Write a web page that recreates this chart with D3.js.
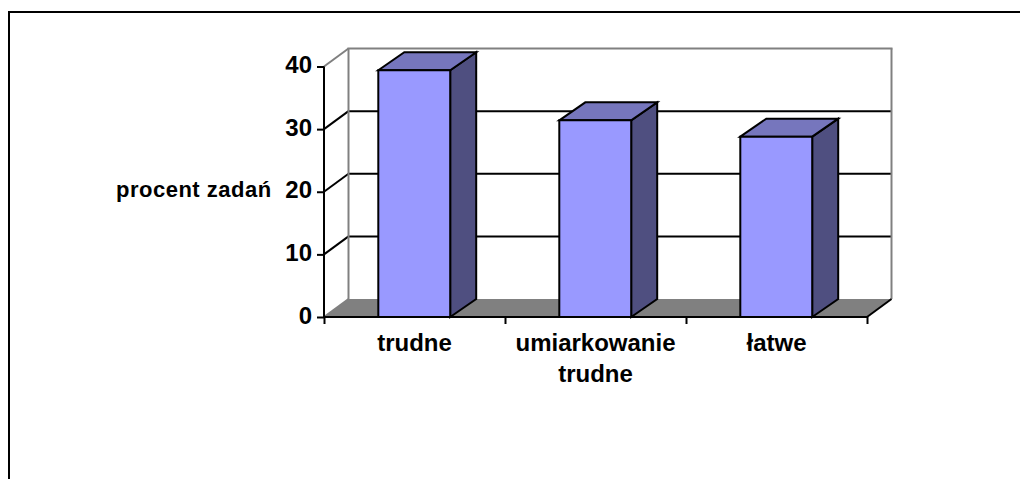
<!DOCTYPE html>
<html>
<head>
<meta charset="utf-8">
<script src="https://cdnjs.cloudflare.com/ajax/libs/d3/7.8.5/d3.min.js"></script>
<style>
html,body{margin:0;padding:0;background:#fff}
svg{display:block}
text{font-family:"Liberation Sans",Arial,sans-serif;font-weight:bold;fill:#000}
</style>
</head>
<body>
<svg id="c" width="1020" height="479"></svg>
<script>
const categories = [["trudne"], ["umiarkowanie", "trudne"], ["łatwe"]];
const keys = ["trudne", "umiarkowanie trudne", "łatwe"];
const values = [39.4, 31.4, 28.8];
const yTicks = [0, 10, 20, 30, 40];
const yTitle = "procent zadań";

const svg = d3.select("#c");
const x0 = 324, x1 = 867, y0 = 317, y1 = 66.5, dx = 24.5, dy = -18;
const x = d3.scaleBand().domain(keys).range([x0, x1]).paddingInner(0.6).paddingOuter(0.3);
const y = d3.scaleLinear().domain([0, 40]).range([y0, y1]);
const poly = (pts, fill, stroke, sw) => svg.append("polygon")
  .attr("points", pts.map(p => p.join(",")).join(" "))
  .attr("fill", fill).attr("stroke", stroke || "none").attr("stroke-width", sw || 0)
  .attr("stroke-linejoin", "miter");
const line = (a, b, stroke, sw) => svg.append("line")
  .attr("x1", a[0]).attr("y1", a[1]).attr("x2", b[0]).attr("y2", b[1])
  .attr("stroke", stroke).attr("stroke-width", sw);

// outer frame
svg.append("path").attr("d", "M9,479V12H1020").attr("fill", "none").attr("stroke", "#000").attr("stroke-width", 2);

// floor
poly([[x0, y0], [x1, y0], [x1 + dx, y0 + dy], [x0 + dx, y0 + dy]], "#808080");

// gridlines: back wall and side wall
yTicks.filter(t => t > 0 && t < 40).forEach(t => {
  line([x0, y(t)], [x0 + dx, y(t) + dy], "#000", 2);
  line([x0 + dx, y(t) + dy], [x1 + dx, y(t) + dy], "#000", 2);
});

// walls outline
const g = "#808080";
line([x0, y(40)], [x0 + dx, y(40) + dy], g, 2);
line([x0 + dx - 1, y(40) + dy], [x1 + dx + 1, y(40) + dy], g, 2);
line([x0 + dx, y(40) + dy], [x0 + dx, y0 + dy], g, 2);
line([x1 + dx, y(40) + dy], [x1 + dx, y0 + dy], g, 2);
line([x0, y0], [x0 + dx, y0 + dy], g, 2);
line([x1, y0], [x1 + dx, y0 + dy], "#000", 2);

// bars
keys.forEach((k, i) => {
  const l = x(k), r = l + x.bandwidth() - 0.5, t = y(values[i]);
  const bx = dx + 1.5;
  poly([[r, y0], [r + bx, y0 + dy], [r + bx, t + dy], [r, t]], "#4f4f80", "#000", 2);
  poly([[l, t], [l + bx, t + dy], [r + bx, t + dy], [r, t]], "#7676bd", "#000", 2);
  poly([[l, t], [r, t], [r, y0], [l, y0]], "#9999ff", "#000", 2);
});

// axes
const yAxis = svg.append("g").attr("transform", `translate(${x0},0)`)
  .call(d3.axisLeft(y).tickValues(yTicks).tickSize(7).tickPadding(5));
yAxis.selectAll("path,line").attr("stroke", "#000").attr("stroke-width", 2);
yAxis.select("path").attr("d", `M0,${y(40)}V${y0}`);
yAxis.selectAll("text").attr("dy", "0.25em").attr("font-size", 24).style("font-family", '"Liberation Sans",Arial,sans-serif').style("font-weight", "bold");

const xTicks = d3.range(keys.length + 1).map(i => x0 + i * x.step());
const xAxis = svg.append("g").attr("transform", `translate(0,${y0})`)
  .call(d3.axisBottom(d3.scaleLinear().domain([x0, x1]).range([x0, x1])).tickValues(xTicks).tickSize(7).tickFormat(""));
xAxis.selectAll("path,line").attr("stroke", "#000").attr("stroke-width", 2);
xAxis.select("path").attr("d", `M${x0 - 1},0H${x1 + 1}`);

// category labels
keys.forEach((k, i) => {
  categories[i].forEach((s, j) => {
    svg.append("text").attr("x", x(k) + x.bandwidth() / 2).attr("y", 351 + j * 31)
      .attr("text-anchor", "middle").attr("font-size", 24).text(s);
  });
});

svg.append("text").attr("x", 116).attr("y", 197).attr("font-size", 22).attr("letter-spacing", 0.5).text(yTitle);
</script>
</body>
</html>
